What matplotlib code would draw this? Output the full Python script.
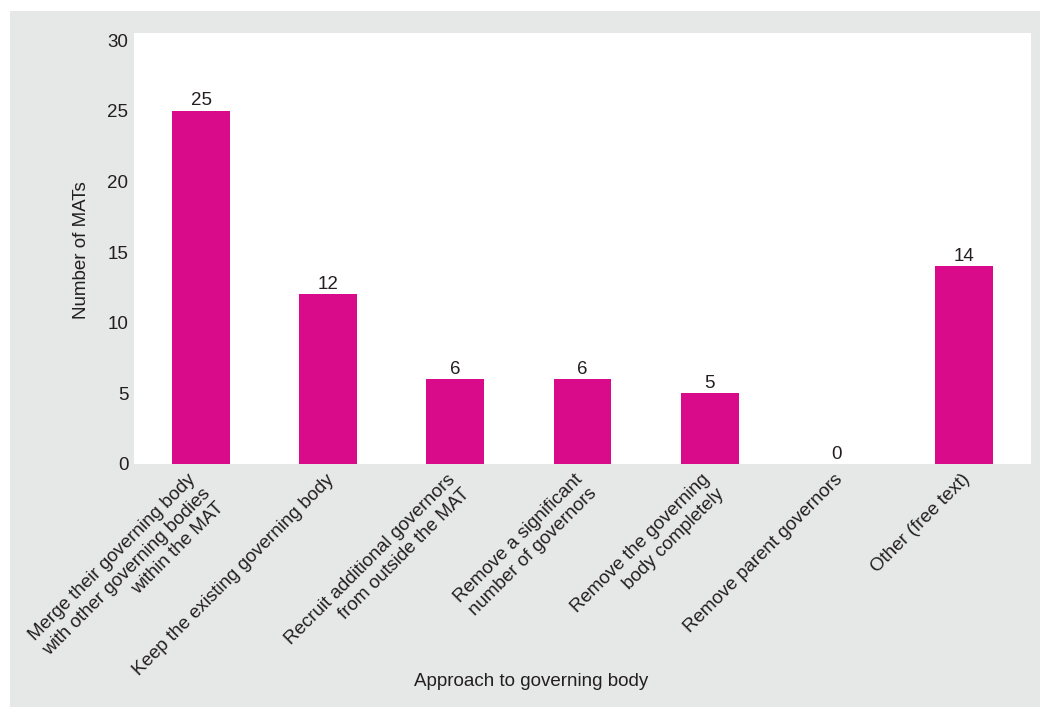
import matplotlib
matplotlib.use("Agg")
import matplotlib.pyplot as plt
from matplotlib.patches import Rectangle
from matplotlib.transforms import ScaledTranslation

categories = [
    "Merge their governing body\nwith other governing bodies\nwithin the MAT",
    "Keep the existing governing body",
    "Recruit additional governors\nfrom outside the MAT",
    "Remove a significant\nnumber of governors",
    "Remove the governing\nbody completely",
    "Remove parent governors",
    "Other (free text)",
]
counts = [25, 12, 6, 6, 5, 0, 14]
yticks = [0, 5, 10, 15, 20, 25, 30]

bar_color = "#d90b8a"
bg_color = "#e6e7e7"
text_color = "#231f20"
fs = 13.5

plt.rcParams["font.family"] = ["Liberation Sans", "DejaVu Sans"]

fig = plt.figure(figsize=(10.42, 7.08), dpi=100)
fig.patch.set_facecolor("white")
# grey panel behind the chart
fig.patches.append(Rectangle((10 / 1042, 1 / 708), 1030 / 1042, 696 / 708,
                             transform=fig.transFigure, facecolor=bg_color,
                             edgecolor="none", zorder=-10))

ax = fig.add_axes([134 / 1042, 1 - 464 / 708, 897 / 1042, 431 / 708])
ax.set_zorder(1)
ax.set_facecolor("white")

x = range(len(categories))
bars = ax.bar(x, counts, width=0.456, color=bar_color)
for xi, v in zip(x, counts):
    ax.text(xi, v + 0.1, str(v), ha="center", va="bottom",
            fontsize=fs, color=text_color)

ax.set_xlim(-0.527, len(categories) - 0.473)
ax.set_ylim(0, 30.5)
ax.set_yticks(yticks)
ax.set_yticklabels([str(t) for t in yticks], fontsize=fs, color=text_color)
ax.set_xticks(list(x))
ax.set_xticklabels(categories, rotation=45, ha="right", va="top",
                   rotation_mode="anchor", multialignment="right",
                   linespacing=1.25, fontsize=fs, color=text_color)
ax.tick_params(axis="y", length=0, pad=4)
ax.tick_params(axis="x", length=0, pad=5)
for s in ax.spines.values():
    s.set_visible(False)

# nudge the wrapped labels left a bit, more for longer blocks
for lab in ax.get_xticklabels():
    n = lab.get_text().count("\n")
    dx = (-2 - 4 * n) / 72
    lab.set_transform(lab.get_transform() + ScaledTranslation(dx, 0, fig.dpi_scale_trans))

fig.text(81 / 1042, 1 - 250 / 708, "Number of MATs", rotation=90,
         ha="center", va="center", fontsize=fs, color=text_color)
fig.text(531 / 1042, 1 - 681 / 708, "Approach to governing body",
         ha="center", va="center", fontsize=fs, color=text_color)

fig.savefig("out.png", dpi=100)
